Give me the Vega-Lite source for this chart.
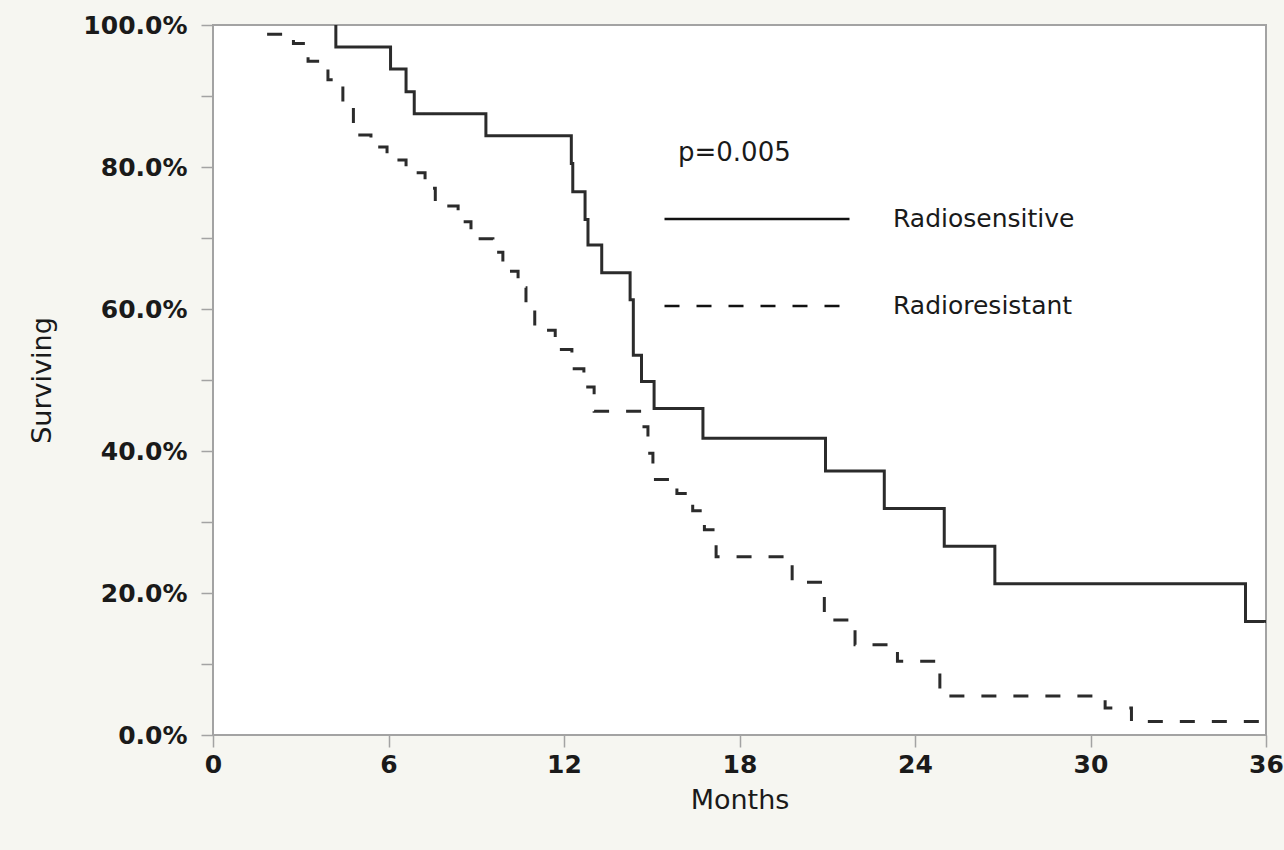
{
  "$schema": "https://vega.github.io/schema/vega-lite/v6.json",
  "autosize": "none",
  "width": 1053,
  "height": 710,
  "padding": {"left": 213, "top": 25, "right": 18, "bottom": 115},
  "background": "#f6f6f1",
  "config": {
    "view": {"fill": "white", "stroke": "#a3a3a3", "strokeWidth": 2},
    "axis": {
      "domain": false,
      "grid": false,
      "labelFlush": false,
      "tickColor": "#a3a3a3",
      "tickWidth": 1.5,
      "tickSize": 12,
      "labelFont": "DejaVu Sans",
      "labelFontWeight": "bold",
      "labelFontSize": 25,
      "labelColor": "#1a1a1a",
      "titleFont": "DejaVu Sans",
      "titleFontWeight": "normal",
      "titleFontSize": 27,
      "titleColor": "#1a1a1a"
    }
  },
  "data": {
    "values": [
      {"group": "Radiosensitive", "t": 4.2, "s": 1.0},
      {"group": "Radiosensitive", "t": 4.2, "s": 0.969},
      {"group": "Radiosensitive", "t": 6.07, "s": 0.938},
      {"group": "Radiosensitive", "t": 6.6, "s": 0.906},
      {"group": "Radiosensitive", "t": 6.88, "s": 0.875},
      {"group": "Radiosensitive", "t": 9.33, "s": 0.844},
      {"group": "Radiosensitive", "t": 12.25, "s": 0.805},
      {"group": "Radiosensitive", "t": 12.3, "s": 0.765},
      {"group": "Radiosensitive", "t": 12.72, "s": 0.726},
      {"group": "Radiosensitive", "t": 12.82, "s": 0.69},
      {"group": "Radiosensitive", "t": 13.29, "s": 0.651},
      {"group": "Radiosensitive", "t": 14.26, "s": 0.613},
      {"group": "Radiosensitive", "t": 14.37, "s": 0.535},
      {"group": "Radiosensitive", "t": 14.65, "s": 0.498},
      {"group": "Radiosensitive", "t": 15.08, "s": 0.46},
      {"group": "Radiosensitive", "t": 16.75, "s": 0.418},
      {"group": "Radiosensitive", "t": 20.94, "s": 0.372},
      {"group": "Radiosensitive", "t": 22.95, "s": 0.319},
      {"group": "Radiosensitive", "t": 25.0, "s": 0.266},
      {"group": "Radiosensitive", "t": 26.73, "s": 0.213},
      {"group": "Radiosensitive", "t": 35.3, "s": 0.16},
      {"group": "Radiosensitive", "t": 36, "s": 0.16},
      {"group": "Radioresistant", "t": 1.85, "s": 0.987},
      {"group": "Radioresistant", "t": 2.75, "s": 0.974},
      {"group": "Radioresistant", "t": 3.25, "s": 0.949},
      {"group": "Radioresistant", "t": 3.93, "s": 0.923},
      {"group": "Radioresistant", "t": 4.44, "s": 0.89},
      {"group": "Radioresistant", "t": 4.8, "s": 0.845},
      {"group": "Radioresistant", "t": 5.4, "s": 0.828},
      {"group": "Radioresistant", "t": 5.95, "s": 0.81},
      {"group": "Radioresistant", "t": 6.6, "s": 0.792},
      {"group": "Radioresistant", "t": 7.25, "s": 0.77},
      {"group": "Radioresistant", "t": 7.6, "s": 0.745},
      {"group": "Radioresistant", "t": 8.38, "s": 0.723},
      {"group": "Radioresistant", "t": 8.82, "s": 0.699},
      {"group": "Radioresistant", "t": 9.57, "s": 0.68},
      {"group": "Radioresistant", "t": 9.91, "s": 0.653},
      {"group": "Radioresistant", "t": 10.43, "s": 0.63},
      {"group": "Radioresistant", "t": 10.7, "s": 0.603},
      {"group": "Radioresistant", "t": 11.0, "s": 0.57},
      {"group": "Radioresistant", "t": 11.7, "s": 0.543},
      {"group": "Radioresistant", "t": 12.27, "s": 0.516},
      {"group": "Radioresistant", "t": 12.68, "s": 0.49},
      {"group": "Radioresistant", "t": 13.03, "s": 0.456},
      {"group": "Radioresistant", "t": 14.67, "s": 0.434},
      {"group": "Radioresistant", "t": 14.87, "s": 0.397},
      {"group": "Radioresistant", "t": 15.04, "s": 0.36},
      {"group": "Radioresistant", "t": 15.86, "s": 0.34},
      {"group": "Radioresistant", "t": 16.4, "s": 0.316},
      {"group": "Radioresistant", "t": 16.8, "s": 0.289},
      {"group": "Radioresistant", "t": 17.2, "s": 0.251},
      {"group": "Radioresistant", "t": 19.8, "s": 0.215},
      {"group": "Radioresistant", "t": 20.9, "s": 0.162},
      {"group": "Radioresistant", "t": 21.95, "s": 0.127},
      {"group": "Radioresistant", "t": 23.4, "s": 0.104},
      {"group": "Radioresistant", "t": 24.85, "s": 0.055},
      {"group": "Radioresistant", "t": 30.5, "s": 0.038},
      {"group": "Radioresistant", "t": 31.4, "s": 0.019},
      {"group": "Radioresistant", "t": 36, "s": 0.019}
    ]
  },
  "mark": {"type": "line", "interpolate": "step-after", "strokeWidth": 3, "color": "#2b2b2b", "clip": true},
  "encoding": {
    "x": {
      "field": "t", "type": "quantitative",
      "scale": {"domain": [0, 36], "nice": false},
      "axis": {"values": [0, 6, 12, 18, 24, 30, 36], "format": "d", "title": "Months", "labelPadding": 5, "titlePadding": 10}
    },
    "y": {
      "field": "s", "type": "quantitative",
      "scale": {"domain": [0, 1], "nice": false},
      "axis": {
        "values": [0, 0.1, 0.2, 0.3, 0.4, 0.5, 0.6, 0.7, 0.8, 0.9, 1.0],
        "format": ".1%",
        "labelExpr": "round(datum.value*10) % 2 == 0 ? datum.label : ''",
        "title": "Surviving",
        "labelPadding": 14,
        "titlePadding": 26
      }
    },
    "strokeDash": {
      "field": "group", "type": "nominal",
      "scale": {"domain": ["Radiosensitive", "Radioresistant"], "range": [[1, 0], [15, 17]]},
      "legend": {
        "title": "p=0.005",
        "orient": "none",
        "legendX": 450,
        "legendY": 115,
        "padding": 0,
        "symbolType": "stroke",
        "symbolSize": 34225,
        "symbolStrokeWidth": 2.5,
        "symbolStrokeColor": "#111111",
        "clipHeight": 20,
        "rowPadding": 62,
        "labelOffset": 42,
        "labelFont": "DejaVu Sans",
        "labelFontSize": 25,
        "labelColor": "#1a1a1a",
        "labelLimit": 400,
        "titleFont": "DejaVu Sans",
        "titleFontWeight": "normal",
        "titleFontSize": 26,
        "titleColor": "#1a1a1a",
        "titlePadding": 43,
        "titleLimit": 400,
        "encode": {
          "symbols": {"update": {"strokeDash": {"signal": "datum.value == 'Radioresistant' ? [9, 8] : [1, 0]"}}},
          "title": {"update": {"dx": {"value": 15}}}
        }
      }
    }
  }
}
